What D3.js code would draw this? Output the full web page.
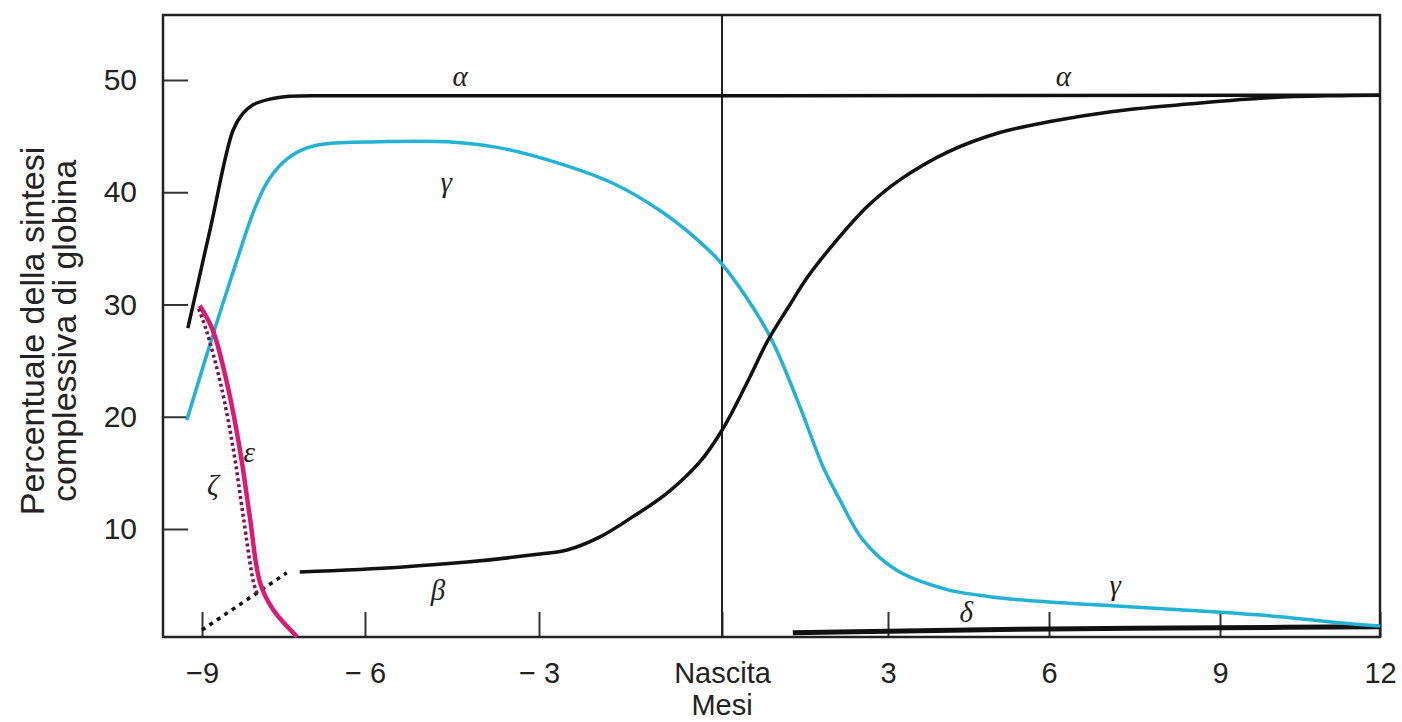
<!DOCTYPE html>
<html>
<head>
<meta charset="utf-8">
<script src="https://cdn.jsdelivr.net/npm/d3@7"></script>
<style>
  body { margin: 0; background: #fff; }
  svg { display: block; }
</style>
</head>
<body>
<svg id="chart" width="1402" height="722"></svg>
<script>
// months (x) vs % of total globin synthesis (y)
const xTicks = [-9, -6, -3, 0, 3, 6, 9, 12];
const xLabels = ["\u22129", "\u2212 6", "\u2212 3", "Nascita", "3", "6", "9", "12"];
const yTicks = [10, 20, 30, 40, 50];

const alpha = [[-9.26, 27.9], [-8.85, 36.7], [-8.43, 45.5], [-8.25, 47.0], [-8.06, 47.8],
  [-7.75, 48.3], [-7.38, 48.55], [-6.6, 48.6], [0, 48.6], [12, 48.65]];

const gamma = [[-9.28, 19.7], [-8.76, 27.9], [-8.30, 34.8], [-8.05, 38.3], [-7.80, 40.9],
  [-7.50, 42.7], [-7.15, 43.8], [-6.75, 44.3], [-5.74, 44.5], [-4.58, 44.5], [-3.72, 44.0],
  [-2.87, 42.9], [-1.79, 40.8], [-0.97, 38.2], [-0.41, 35.8], [0, 33.6], [0.83, 27.5],
  [1.36, 21.5], [1.83, 15.5], [2.13, 12.6], [2.55, 9.0], [3.17, 6.3], [4.10, 4.6],
  [4.71, 4.1], [5.09, 3.85], [6.0, 3.5], [7.19, 3.14], [8.95, 2.6], [10.18, 2.16],
  [11.12, 1.7], [12, 1.35]];

const beta = [[-7.20, 6.17], [-5.40, 6.6], [-4.24, 7.05], [-3.10, 7.7], [-2.54, 8.13],
  [-2.0, 9.3], [-1.46, 11.1], [-0.90, 13.2], [-0.36, 16.0], [0, 18.8], [0.45, 23.0],
  [0.83, 26.8], [1.23, 30.0], [1.54, 32.4], [1.95, 35.0], [2.62, 38.7], [3.22, 41.1],
  [4.12, 43.6], [5.07, 45.3], [6.02, 46.3], [7.12, 47.2], [8.30, 47.8], [9.84, 48.4],
  [11.1, 48.6], [12, 48.65]];
const betaEarly = [[-9, 1.0], [-7.44, 6.1]];

const epsilon = [[-9.04, 29.9], [-8.80, 27.7], [-8.54, 23.0], [-8.30, 17.0], [-8.12, 11.1],
  [-7.93, 5.2], [-7.69, 2.8], [-7.25, 0.4]];
const zeta = [[-9.06, 29.6], [-8.92, 27.7], [-8.66, 23.0], [-8.42, 17.0], [-8.24, 11.1],
  [-8.05, 5.2], [-7.98, 4.2]];

const delta = [[1.28, 0.75], [3, 0.9], [6, 1.1], [9, 1.2], [12, 1.3]];

// greek labels: [text, month, value]
const labels = [["\u03b1", -4.36, 50.4], ["\u03b1", 6.25, 50.4], ["\u03b3", -4.6, 40.9],
  ["\u03b2", -4.74, 4.6], ["\u03b5", -8.13, 16.9], ["\u03b6", -8.80, 13.9],
  ["\u03b4", 4.46, 2.6], ["\u03b3", 7.16, 5.0]];

const svg = d3.select("#chart");

// the month axis is not evenly spaced in the original figure
const x = d3.scaleLinear()
  .domain(xTicks)
  .range([202, 365, 539, 722, 888, 1049, 1220, 1380]);
const y = d3.scaleLinear().domain([0, 50]).range([641.25, 80]);

const frame = { left: 163, right: 1380, top: 15, bottom: 637 };

const line = d3.line()
  .x(d => x(d[0]))
  .y(d => y(d[1]))
  .curve(d3.curveCatmullRom.alpha(0.5));

// y axis (ticks pointing inward)
const yAxis = svg.append("g")
  .attr("transform", `translate(${frame.left},0)`)
  .call(d3.axisLeft(y).tickValues(yTicks).tickSize(-25).tickPadding(26));
yAxis.select(".domain").remove();
yAxis.selectAll(".tick line").attr("stroke", "#333").attr("stroke-width", 2);
yAxis.selectAll(".tick text")
  .attr("font-family", "Liberation Sans, Arial, sans-serif")
  .attr("font-size", 30).attr("fill", "#222");

// x axis
const xAxis = svg.append("g")
  .attr("transform", `translate(0,${frame.bottom})`)
  .call(d3.axisBottom(x).tickValues(xTicks).tickSize(-25).tickPadding(25)
    .tickFormat((d, i) => xLabels[i]));
xAxis.select(".domain").remove();
xAxis.selectAll(".tick line").attr("stroke", "#333").attr("stroke-width", 2);
xAxis.selectAll(".tick text")
  .attr("font-family", "Liberation Sans, Arial, sans-serif")
  .attr("font-size", 29).attr("fill", "#222");

svg.append("text")
  .attr("x", x(0)).attr("y", 715)
  .attr("text-anchor", "middle")
  .attr("font-family", "Liberation Sans, Arial, sans-serif")
  .attr("font-size", 29).attr("fill", "#222")
  .text("Mesi");

// y title
const yTitle = svg.append("text")
  .attr("transform", "translate(0,331) rotate(-90)")
  .attr("text-anchor", "middle")
  .attr("font-family", "Liberation Sans, Arial, sans-serif")
  .attr("font-size", 34).attr("fill", "#222");
yTitle.append("tspan").attr("x", 0).attr("y", 44).text("Percentuale della sintesi");
yTitle.append("tspan").attr("x", 0).attr("y", 76).text("complessiva di globina");

// frame + birth line
svg.append("rect")
  .attr("x", frame.left).attr("y", frame.top)
  .attr("width", frame.right - frame.left).attr("height", frame.bottom - frame.top)
  .attr("fill", "none").attr("stroke", "#222").attr("stroke-width", 2.5);
svg.append("line")
  .attr("x1", x(0)).attr("x2", x(0)).attr("y1", frame.top).attr("y2", frame.bottom)
  .attr("stroke", "#222").attr("stroke-width", 2);

const curves = svg.append("g").attr("fill", "none")
  .attr("stroke-linejoin", "round").attr("stroke-linecap", "butt");

curves.append("path").attr("d", line(delta))
  .attr("stroke", "#111").attr("stroke-width", 5);
curves.append("path").attr("d", line(gamma))
  .attr("stroke", "#22b2d3").attr("stroke-width", 3.5);
curves.append("path").attr("d", line(alpha))
  .attr("stroke", "#111").attr("stroke-width", 3.5);
curves.append("path").attr("d", line(beta))
  .attr("stroke", "#111").attr("stroke-width", 3.5);
curves.append("path").attr("d", line(betaEarly))
  .attr("stroke", "#111").attr("stroke-width", 3.5).attr("stroke-dasharray", "4,5");
curves.append("path").attr("d", line(epsilon))
  .attr("stroke", "#dc1a72").attr("stroke-width", 4.5);
curves.append("path").attr("d", line(zeta))
  .attr("stroke", "#7a1446").attr("stroke-width", 3.5).attr("stroke-dasharray", "3,3");

svg.append("g").selectAll("text")
  .data(labels)
  .join("text")
  .attr("x", d => x(d[1]))
  .attr("y", d => y(d[2]))
  .attr("text-anchor", "middle")
  .attr("dominant-baseline", "central")
  .attr("font-family", "Liberation Serif, Times New Roman, serif")
  .attr("font-style", "italic")
  .attr("font-size", 29)
  .attr("fill", "#222")
  .text(d => d[0]);
</script>
</body>
</html>
